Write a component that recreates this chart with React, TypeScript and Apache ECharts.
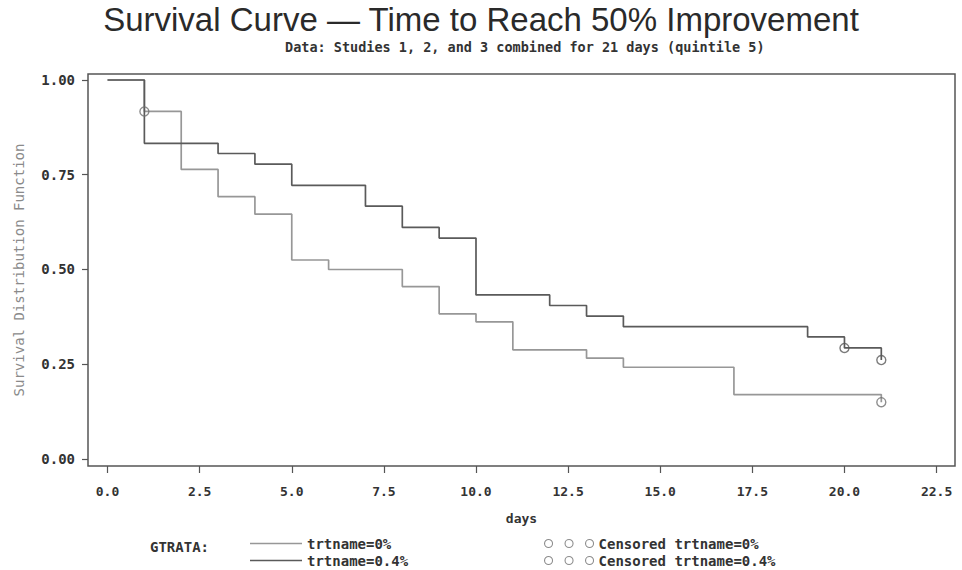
import React, { useEffect, useRef } from "react";
import * as echarts from "echarts";

// Kaplan-Meier step estimates per treatment arm (day, survival after that day)
const days0 = [0, 1, 2, 3, 4, 5, 6, 8, 9, 10, 11, 13, 14, 17, 21];
const surv0 = [1.0, 0.917, 0.764, 0.692, 0.646, 0.525, 0.5, 0.455, 0.383, 0.362, 0.288, 0.266, 0.242, 0.17, 0.15];

const days04 = [0, 1, 3, 4, 5, 7, 8, 9, 10, 12, 13, 14, 19, 20, 21];
const surv04 = [1.0, 0.833, 0.806, 0.778, 0.722, 0.667, 0.611, 0.583, 0.433, 0.405, 0.377, 0.349, 0.322, 0.293, 0.261];

// Censored observations
const censDays0 = [1, 21];
const censSurv0 = [0.917, 0.15];
const censDays04 = [20, 21];
const censSurv04 = [0.293, 0.261];

// Tick positions on each axis
const xTicks = [0, 2.5, 5, 7.5, 10, 12.5, 15, 17.5, 20, 22.5];
const yTicks = [0, 0.25, 0.5, 0.75, 1.0];

const seriesNames = ["trtname=0%", "trtname=0.4%"];
const censorNames = ["Censored trtname=0%", "Censored trtname=0.4%"];

const titleText = "Survival Curve \u2014 Time to Reach 50% Improvement";
const subtitleText = "Data: Studies 1, 2, and 3 combined for 21 days (quintile 5)";
const xAxisName = "days";
const yAxisName = "Survival Distribution Function";
const strataLabel = "GTRATA:";

const colorLight = "#979797";
const colorDark = "#5a5a5a";
const mono = "'DejaVu Sans Mono', 'Liberation Mono', monospace";

// three small circles used as the legend glyph for censored marks
const threeCircles =
  "path://M0,4a4,4 0 1,0 8,0a4,4 0 1,0 -8,0Z M20.5,4a4,4 0 1,0 8,0a4,4 0 1,0 -8,0Z M41,4a4,4 0 1,0 8,0a4,4 0 1,0 -8,0Z";

const zip = (xs: number[], ys: number[]) => xs.map((x, i) => [x, ys[i]]);

export default function App() {
  const ref = useRef<HTMLDivElement>(null);

  useEffect(() => {
    if (!ref.current) return;
    document.body.style.margin = "0";
    const chart = echarts.init(ref.current, undefined, { renderer: "svg" });

    const legendText = {
      fontFamily: mono,
      fontWeight: "bold" as const,
      fontSize: 14,
      color: "#333",
      lineHeight: 15,
    };

    chart.setOption({
      animation: false,
      backgroundColor: "#fff",
      title: [
        {
          text: titleText,
          left: "center",
          top: 2,
          padding: 0,
          textStyle: {
            fontFamily: "'Liberation Sans', Arial, sans-serif",
            fontWeight: "normal",
            fontSize: 33,
            lineHeight: 34,
            color: "#2a2a2a",
          },
        },
        {
          text: subtitleText,
          left: 285,
          top: 39,
          padding: 0,
          textStyle: {
            fontFamily: mono,
            fontWeight: "bold",
            fontSize: 13.5,
            lineHeight: 15,
            color: "#333",
          },
        },
      ],
      // the plot frame: axes run slightly past the first and last ticks
      grid: {
        left: 88,
        right: 7,
        top: 74,
        bottom: 104,
        show: true,
        borderColor: "#555",
        borderWidth: 1.5,
        backgroundColor: "transparent",
      },
      xAxis: {
        type: "value",
        min: -0.53,
        max: 23.0,
        name: xAxisName,
        nameLocation: "middle",
        nameGap: 46,
        nameTextStyle: { fontFamily: mono, fontWeight: "bold", fontSize: 13, color: "#333" },
        axisLine: { show: false, onZero: false },
        axisTick: {
          show: true,
          length: 7,
          customValues: xTicks,
          lineStyle: { color: "#555", width: 1.2 },
        },
        axisLabel: {
          margin: 19,
          customValues: xTicks,
          formatter: (v: number) => v.toFixed(1),
          fontFamily: mono,
          fontWeight: "bold",
          fontSize: 13,
          color: "#333",
        },
        splitLine: { show: false },
      },
      yAxis: {
        type: "value",
        min: -0.0185,
        max: 1.0158,
        name: yAxisName,
        nameLocation: "middle",
        nameRotate: 90,
        nameGap: 62,
        nameTextStyle: { fontFamily: mono, fontSize: 14, color: "#8a8a8a" },
        axisLine: { show: false, onZero: false },
        axisTick: {
          show: true,
          length: 6,
          customValues: yTicks,
          lineStyle: { color: "#555", width: 1.2 },
        },
        axisLabel: {
          margin: 13,
          customValues: yTicks,
          formatter: (v: number) => v.toFixed(2),
          fontFamily: mono,
          fontWeight: "bold",
          fontSize: 14,
          color: "#333",
        },
        splitLine: { show: false },
      },
      legend: [
        {
          orient: "vertical",
          left: 250,
          top: 536,
          height: 40,
          padding: 0,
          itemWidth: 52,
          itemHeight: 1.5,
          itemGap: 2,
          selectedMode: false,
          textStyle: legendText,
          data: [
            { name: seriesNames[0], icon: "rect", itemStyle: { color: colorLight } },
            { name: seriesNames[1], icon: "rect", itemStyle: { color: colorDark } },
          ],
        },
        {
          orient: "vertical",
          left: 544,
          top: 536,
          height: 40,
          padding: 0,
          itemWidth: 49,
          itemHeight: 8,
          itemGap: 2,
          selectedMode: false,
          textStyle: legendText,
          data: [
            {
              name: censorNames[0],
              icon: threeCircles,
              itemStyle: { color: "transparent", borderColor: "#707070", borderWidth: 1.1 },
            },
            {
              name: censorNames[1],
              icon: threeCircles,
              itemStyle: { color: "transparent", borderColor: "#707070", borderWidth: 1.1 },
            },
          ],
        },
      ],
      graphic: [
        {
          type: "text",
          x: 150,
          y: 547,
          style: {
            text: strataLabel,
            font: `bold 14px ${mono}`,
            fill: "#333",
            verticalAlign: "middle",
          },
        },
      ],
      series: [
        {
          name: seriesNames[0],
          type: "line",
          step: "end",
          symbol: "none",
          color: colorLight,
          lineStyle: { color: colorLight, width: 1.7 },
          data: zip(days0, surv0),
          z: 2,
        },
        {
          name: seriesNames[1],
          type: "line",
          step: "end",
          symbol: "none",
          color: colorDark,
          lineStyle: { color: colorDark, width: 1.7 },
          data: zip(days04, surv04),
          z: 3,
        },
        {
          name: censorNames[0],
          type: "scatter",
          symbol: "circle",
          symbolSize: 9,
          itemStyle: { color: "transparent", borderColor: "#707070", borderWidth: 1.4 },
          data: zip(censDays0, censSurv0),
          z: 4,
        },
        {
          name: censorNames[1],
          type: "scatter",
          symbol: "circle",
          symbolSize: 9,
          itemStyle: { color: "transparent", borderColor: colorDark, borderWidth: 1.4 },
          data: zip(censDays04, censSurv04),
          z: 4,
        },
      ],
    });

    return () => chart.dispose();
  }, []);

  return <div ref={ref} style={{ width: 962, height: 570 }} />;
}
